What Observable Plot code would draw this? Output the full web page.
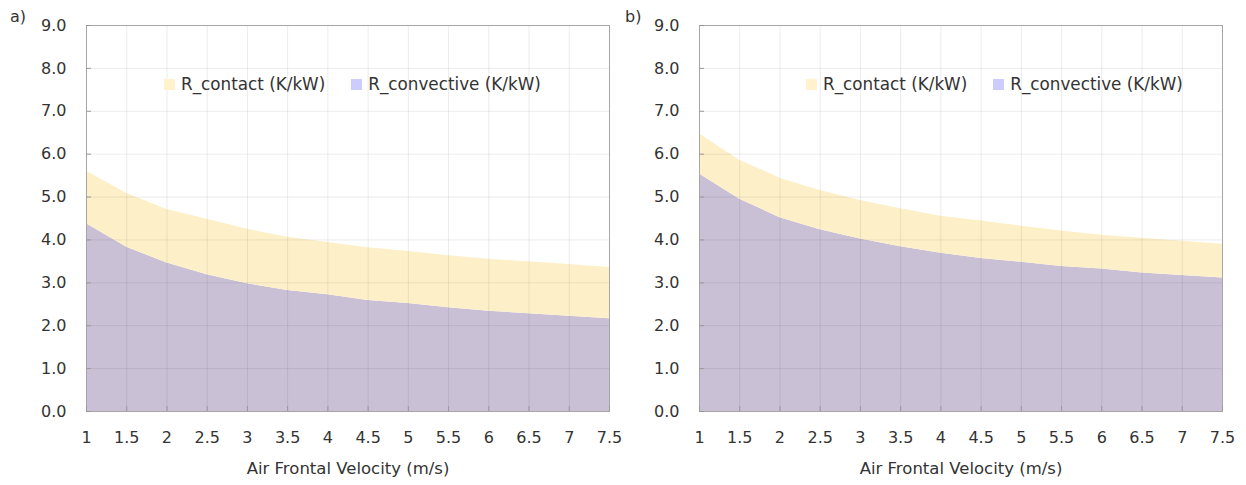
<!DOCTYPE html>
<html>
<head>
<meta charset="utf-8">
<script src="https://cdn.jsdelivr.net/npm/d3@7"></script>
<script src="https://cdn.jsdelivr.net/npm/@observablehq/plot@0.6"></script>
<style>
  body { margin: 0; background: #fff; font-family: "DejaVu Sans", sans-serif; color: #333; }
  #wrap { display: flex; width: 1246px; height: 485px; }
  .panel { position: relative; width: 623px; height: 485px; }
  .tag { position: absolute; top: 7px; font-size: 16px; color: #333; }
  .legend { position: absolute; top: 74px; display: flex; align-items: center; font-size: 16.8px; color: #333; }
  .legend .item { display: flex; align-items: center; margin-right: 26px; }
  .legend .sw { width: 11px; height: 11px; margin-right: 6px; }
</style>
</head>
<body>
<div id="wrap"></div>
<script>
// ---- data ----
const velocity = [1, 1.5, 2, 2.5, 3, 3.5, 4, 4.5, 5, 5.5, 6, 6.5, 7, 7.5];
const yTicks = [0, 1, 2, 3, 4, 5, 6, 7, 8, 9];
const seriesNames = ["R_contact (K/kW)", "R_convective (K/kW)"];
const seriesColors = ["#fdf0c9", "#c9c0d6"];
const swatchColors = ["#fff2cc", "#ccccff"];
const panelTags = ["a)", "b)"];
const xTitle = "Air Frontal Velocity (m/s)";

// panel a
const convectiveA = [4.38, 3.83, 3.46, 3.19, 2.98, 2.82, 2.72, 2.59, 2.52, 2.42, 2.34, 2.28, 2.22, 2.16];
const contactA    = [1.22, 1.25, 1.25, 1.29, 1.27, 1.24, 1.22, 1.23, 1.21, 1.21, 1.21, 1.21, 1.21, 1.20];
// panel b
const convectiveB = [5.54, 4.95, 4.52, 4.24, 4.02, 3.84, 3.69, 3.57, 3.48, 3.38, 3.32, 3.23, 3.17, 3.11];
const contactB    = [0.93, 0.91, 0.92, 0.91, 0.90, 0.89, 0.86, 0.87, 0.84, 0.83, 0.79, 0.81, 0.80, 0.79];

const panels = [
  {tag: panelTags[0], conv: convectiveA, cont: contactA, ml: 86, mr: 14, legendLeft: 164, tagLeft: 10},
  {tag: panelTags[1], conv: convectiveB, cont: contactB, ml: 76, mr: 24, legendLeft: 183, tagLeft: 2}
];

const wrap = document.getElementById("wrap");

panels.forEach((p) => {
  const rows = [];
  velocity.forEach((v, i) => {
    rows.push({v, series: seriesNames[1], value: p.conv[i]});
    rows.push({v, series: seriesNames[0], value: p.cont[i]});
  });

  const chart = Plot.plot({
    width: 623,
    height: 485,
    marginLeft: p.ml,
    marginRight: p.mr,
    marginTop: 25,
    marginBottom: 74,
    style: {fontFamily: "DejaVu Sans, sans-serif", fontSize: "16px", color: "#333", background: "#fff"},
    x: {domain: [1, 7.5]},
    y: {domain: [0, 9]},
    color: {domain: seriesNames, range: seriesColors},
    marks: [
      Plot.areaY(rows, {x: "v", y: "value", fill: "series", order: [seriesNames[1], seriesNames[0]], curve: "linear"}),
      Plot.gridX(velocity, {stroke: "#000", strokeOpacity: 0.08}),
      Plot.gridY(yTicks, {stroke: "#000", strokeOpacity: 0.08}),
      Plot.frame({stroke: "#a6a6a6"}),
      Plot.axisY(yTicks, {tickSize: -5, tickPadding: 25, stroke: "#999", tickFormat: d3.format(".1f"), label: null, fontSize: 16, fill: "#333"}),
      Plot.axisX(velocity, {tickSize: -5, tickPadding: 25, stroke: "#999", tickFormat: (d) => String(d), fontSize: 16, fill: "#333", label: null}),
      Plot.axisX({ticks: [], label: xTitle, labelAnchor: "center", labelOffset: 62, labelArrow: "none", fontSize: 16.5, fill: "#333"})
    ]
  });

  const panel = document.createElement("div");
  panel.className = "panel";
  panel.appendChild(chart);

  const tag = document.createElement("div");
  tag.className = "tag";
  tag.style.left = p.tagLeft + "px";
  tag.textContent = p.tag;
  panel.appendChild(tag);

  const legend = document.createElement("div");
  legend.className = "legend";
  legend.style.left = p.legendLeft + "px";
  seriesNames.forEach((name, i) => {
    const item = document.createElement("div");
    item.className = "item";
    const sw = document.createElement("div");
    sw.className = "sw";
    sw.style.background = swatchColors[i];
    const t = document.createElement("span");
    t.textContent = name;
    item.appendChild(sw);
    item.appendChild(t);
    legend.appendChild(item);
  });
  panel.appendChild(legend);

  wrap.appendChild(panel);
});
</script>
</body>
</html>
